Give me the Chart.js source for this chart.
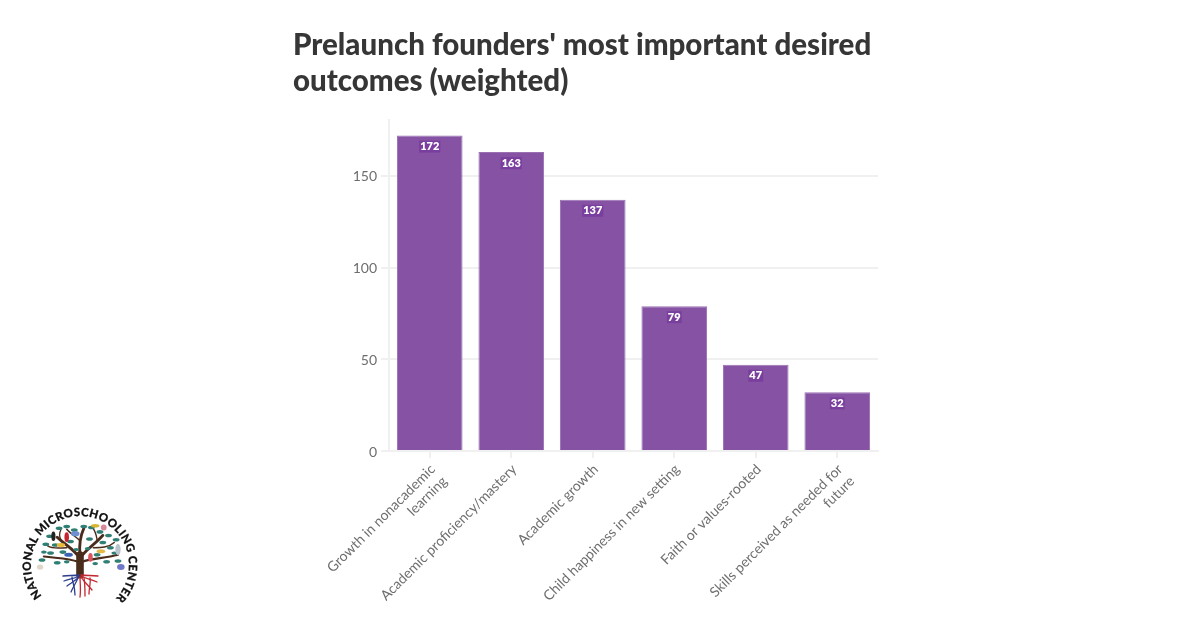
<!DOCTYPE html>
<html lang="en">

<head>
    <meta charset="UTF-8" />
    <title>Prelaunch founders' most important desired outcomes</title>
    <script src="https://cdn.jsdelivr.net/npm/chart.js"></script>
    <style>
        html, body {
            margin: 0;
            width: 1200px;
            height: 628px;
            background: #fff;
            overflow: hidden;
        }

        #chartTitle {
            position: absolute;
            left: 293px;
            top: 26px;
            margin: 0;
            font: 900 29.5px/36px Lato, sans-serif;
            color: #363636;
            white-space: nowrap;
        }

        #outcomesChart {
            position: absolute;
            left: 0;
            top: 0;
        }

        #logo {
            position: absolute;
            left: 0;
            top: 490px;
        }
    </style>
</head>

<body>
    <canvas id="outcomesChart" width="1200" height="628"></canvas>
    <h1 id="chartTitle">Prelaunch founders' most important desired<br>outcomes (weighted)</h1>

    <!-- organisation badge: tree with roots inside a ring of lettering -->
    <svg id="logo" width="160" height="120" viewBox="0 490 160 120">
        <defs>
            <path id="ring" d="M 42 596 A 49 49 0 1 1 118 596" fill="none" />
        </defs>
        <text font-family="Lato, sans-serif" font-weight="900" font-size="11.5" fill="#111" stroke="#111" stroke-width="0.25">
            <textPath href="#ring" startOffset="0" textLength="224" lengthAdjust="spacing">NATIONAL MICROSCHOOLING CENTER</textPath>
        </text>
        <!-- canopy squeezed a little so it stays clear of the lettering -->
        <g transform="translate(80 575) scale(0.95 0.88) translate(-80 -575)">
            <g stroke="#4a2c1c" fill="none" stroke-linecap="round">
                <path d="M80 575 L80 552" stroke-width="8" />
                <path d="M80 556 C74 546 66 542 56 532" stroke-width="3.2" />
                <path d="M80 556 C86 546 94 542 104 530" stroke-width="3.2" />
                <path d="M80 552 C79 542 80 532 84 522" stroke-width="3" />
                <path d="M78 560 C68 556 56 556 42 554" stroke-width="2.4" />
                <path d="M82 560 C92 556 106 556 120 552" stroke-width="2.4" />
                <path d="M66 544 C60 544 52 546 46 542" stroke-width="1.6" />
                <path d="M94 544 C102 544 110 544 116 538" stroke-width="1.6" />
                <path d="M80 536 C74 530 70 528 66 523" stroke-width="1.6" />
                <path d="M60 536 C58 530 58 528 60 523" stroke-width="1.4" />
                <path d="M98 537 C98 530 96 526 94 522" stroke-width="1.4" />
            </g>
            <g fill="#2f7f74">
                <ellipse cx="58" cy="522" rx="3.6" ry="2" /><ellipse cx="66" cy="520" rx="3.6" ry="2" />
                <ellipse cx="74" cy="524" rx="3.6" ry="2" /><ellipse cx="84" cy="520" rx="3.6" ry="2" />
                <ellipse cx="92" cy="521" rx="3.6" ry="2" /><ellipse cx="101" cy="526" rx="3.6" ry="2" />
                <ellipse cx="110" cy="530" rx="3.6" ry="2" /><ellipse cx="118" cy="535" rx="3.6" ry="2" />
                <ellipse cx="48" cy="531" rx="3.6" ry="2" /><ellipse cx="44" cy="540" rx="3.6" ry="2" />
                <ellipse cx="54" cy="541" rx="3.6" ry="2" /><ellipse cx="62" cy="549" rx="3.6" ry="2" />
                <ellipse cx="49" cy="550" rx="3.6" ry="2" /><ellipse cx="40" cy="558" rx="3.6" ry="2" />
                <ellipse cx="56" cy="561" rx="3.6" ry="2" /><ellipse cx="70" cy="537" rx="3.6" ry="2" />
                <ellipse cx="90" cy="534" rx="3.6" ry="2" /><ellipse cx="104" cy="538" rx="3.6" ry="2" />
                <ellipse cx="112" cy="544" rx="3.6" ry="2" /><ellipse cx="98" cy="552" rx="3.6" ry="2" />
                <ellipse cx="108" cy="560" rx="3.6" ry="2" /><ellipse cx="120" cy="559" rx="3.6" ry="2" />
                <ellipse cx="76" cy="546" rx="3" ry="1.8" /><ellipse cx="88" cy="545" rx="3" ry="1.8" />
                <ellipse cx="66" cy="560" rx="3" ry="1.8" /><ellipse cx="96" cy="562" rx="3" ry="1.8" />
                <ellipse cx="42" cy="549" rx="3" ry="1.8" /><ellipse cx="116" cy="550" rx="3" ry="1.8" />
            </g>
            <g>
                <ellipse cx="66" cy="532" rx="2.4" ry="5.5" fill="#c8242f" />
                <ellipse cx="52" cy="531" rx="2.2" ry="5.5" fill="#222" />
                <ellipse cx="60" cy="541" rx="4.5" ry="2.4" fill="#e8b93a" />
                <ellipse cx="75" cy="528" rx="4.5" ry="3" fill="#6f8fd0" />
                <ellipse cx="96" cy="519" rx="4.5" ry="2" fill="#d9b431" />
                <ellipse cx="105" cy="521" rx="3" ry="3.4" fill="#d8889a" />
                <ellipse cx="68" cy="552" rx="4.5" ry="2.4" fill="#3b62b5" />
                <ellipse cx="91" cy="555" rx="2.4" ry="5" fill="#d9555e" />
                <ellipse cx="102" cy="548" rx="4.5" ry="2.4" fill="#e4b94a" />
                <ellipse cx="120" cy="546" rx="2.8" ry="6.5" fill="#b9c4cc" />
                <ellipse cx="123" cy="566" rx="4" ry="3.4" fill="#6f78c8" />
                <ellipse cx="38" cy="566" rx="3.4" ry="3" fill="#dfd7c8" />
            </g>
        </g>
        <g fill="none" stroke-linecap="round" stroke-width="1.3">
            <g stroke="#2d3f8e">
                <path d="M79 575 C74 576 68 575 63 576" />
                <path d="M79 576 C74 579 69 579 64 581" />
                <path d="M79 577 C75 581 71 583 67 586" />
                <path d="M78 578 C76 583 73 587 71 592" />
                <path d="M72 577 C72 581 75 586 75 595" />
            </g>
            <g stroke="#c2282f">
                <path d="M81 575 C86 576 92 575 98 576" />
                <path d="M81 576 C86 579 91 579 97 582" />
                <path d="M81 577 C84 582 88 585 92 590" />
                <path d="M80 577 C80 582 81 590 80 597" />
                <path d="M84 578 C85 583 85 588 85 596" />
                <path d="M90 578 C91 582 89 588 89 594" />
            </g>
        </g>
    </svg>

    <script>
        const categories = [
            ['Growth in nonacademic', 'learning'],
            'Academic proficiency/mastery',
            'Academic growth',
            'Child happiness in new setting',
            'Faith or values-rooted',
            ['Skills perceived as needed for', 'future']
        ];
        const weightedScores = [172, 163, 137, 79, 47, 32];
        const yTicks = [0, 50, 100, 150];

        const fontFamily = 'Lato, sans-serif';

        // small white number on a darker chip just under the top of each bar
        const valueChips = {
            id: 'valueChips',
            afterDatasetsDraw(chart) {
                const { ctx } = chart;
                const meta = chart.getDatasetMeta(0);
                ctx.save();
                ctx.font = `800 11px ${fontFamily}`;
                ctx.textAlign = 'center';
                ctx.textBaseline = 'middle';
                meta.data.forEach((bar, i) => {
                    const label = String(weightedScores[i]);
                    const w = ctx.measureText(label).width + 2;
                    const cy = bar.y + 11;
                    ctx.fillStyle = '#7a3f9e';
                    ctx.fillRect(bar.x - w / 2, cy - 6, w, 12);
                    ctx.fillStyle = '#fff';
                    ctx.fillText(label, bar.x, cy);
                });
                ctx.restore();
            }
        };

        new Chart(document.getElementById('outcomesChart'), {
            type: 'bar',
            data: {
                labels: categories,
                datasets: [{
                    data: weightedScores,
                    backgroundColor: '#8652a3',
                    borderColor: '#9a70b3',
                    borderWidth: 1,
                    barPercentage: 1,
                    categoryPercentage: 0.805
                }]
            },
            options: {
                responsive: false,
                animation: false,
                layout: { padding: { top: 120, left: 340, right: 322, bottom: 0 } },
                plugins: { legend: { display: false }, tooltip: { enabled: false }, title: { display: false } },
                scales: {
                    x: {
                        afterFit(scale) { scale.height = 177; },
                        border: { color: '#f0f0f0', width: 2 },
                        grid: { display: true, offset: false, drawOnChartArea: false, color: '#f0f0f0', tickLength: 7, lineWidth: 2 },
                        ticks: {
                            color: '#6e6e6e',
                            font: { family: fontFamily, size: 14 },
                            minRotation: 45,
                            maxRotation: 45,
                            padding: 3,
                            labelOffset: 3,
                            autoSkip: false
                        }
                    },
                    y: {
                        min: 0,
                        max: 180.5,
                        afterFit(scale) { scale.width = 49; },
                        afterBuildTicks(scale) { scale.ticks = yTicks.map(value => ({ value })); },
                        border: { color: '#f0f0f0', width: 2 },
                        grid: { color: '#f0f0f0', lineWidth: 2, tickLength: 8 },
                        ticks: {
                            color: '#6e6e6e',
                            font: { family: fontFamily, size: 14 },
                            padding: 4,
                            labelOffset: 1
                        }
                    }
                }
            },
            plugins: [valueChips]
        });
    </script>
</body>

</html>
